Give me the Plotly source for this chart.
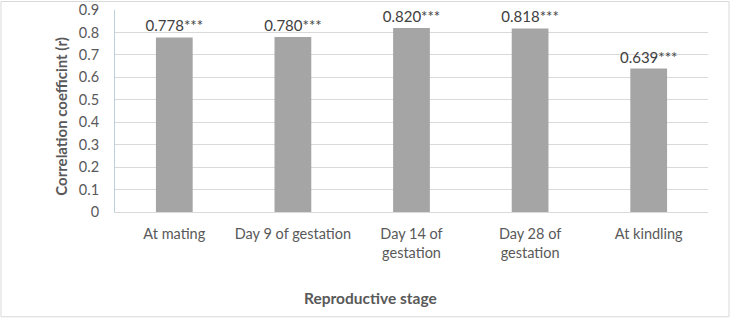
import plotly.graph_objects as go

categories = ["At mating", "Day 9 of gestation", "Day 14 of<br>gestation", "Day 28 of<br>gestation", "At kindling"]
values = [0.778, 0.780, 0.820, 0.818, 0.639]
labels = ["0.778***", "0.780***", "0.820***", "0.818***", "0.639***"]
y_ticks = [0, 0.1, 0.2, 0.3, 0.4, 0.5, 0.6, 0.7, 0.8, 0.9]
y_ticklabels = ["0", "0.1", "0.2", "0.3", "0.4", "0.5", "0.6", "0.7", "0.8", "0.9"]
x_title = "Reproductive stage"
y_title = "Correlation coefficint (r)"

FONT = "Lato, Carlito, Calibri, sans-serif"

fig = go.Figure(go.Bar(
    x=categories, y=values, text=labels, textposition="outside",
    constraintext="none",
    marker=dict(color="#a5a5a5", line=dict(width=0)),
    textfont=dict(family=FONT, size=15, color="#404040"),
    cliponaxis=False,
))

L, R, T, B = 115, 23, 9.5, 107
W, H = 731, 319
pw, ph = W - L - R, H - T - B

fig.update_layout(
    width=W, height=H,
    margin=dict(l=L, r=R, t=T, b=B, pad=0, autoexpand=False),
    paper_bgcolor="white", plot_bgcolor="white",
    bargap=0.69,
    showlegend=False,
    font=dict(family=FONT, size=14.5, color="#595959"),
    xaxis=dict(
        automargin=False,
        showgrid=False, showline=True, linecolor="#d9d9d9", linewidth=1,
        ticks="outside", ticklen=9, tickcolor="rgba(0,0,0,0)",
        tickfont=dict(family=FONT, size=14.5, color="#595959"),
    ),
    yaxis=dict(
        automargin=False,
        range=[0, 0.9], tickvals=y_ticks, ticktext=y_ticklabels,
        showgrid=True, gridcolor="#d9d9d9", gridwidth=1,
        showline=True, linecolor="#bcd0dc", linewidth=1,
        zeroline=False,
        ticks="outside", ticklen=12, tickcolor="rgba(0,0,0,0)",
        tickfont=dict(family=FONT, size=14.5, color="#595959"),
    ),
    annotations=[
        dict(text="<b>%s</b>" % x_title, xref="paper", yref="paper",
             x=(370 - L) / pw, y=(H - B - 298) / ph, xanchor="center", yanchor="middle",
             showarrow=False, font=dict(family=FONT, size=15.5, color="#595959")),
        dict(text="<b>%s</b>" % y_title, xref="paper", yref="paper",
             x=(61.5 - L) / pw, y=(H - B - 116) / ph, xanchor="center", yanchor="middle",
             textangle=-90, showarrow=False, font=dict(family=FONT, size=15, color="#595959")),
    ],
    shapes=[dict(
        type="rect", xref="paper", yref="paper",
        x0=(1 - L) / pw, x1=(729 - L) / pw,
        y0=(H - B - 317) / ph, y1=(H - B - 1) / ph,
        line=dict(color="#d9d9d9", width=1), fillcolor="rgba(0,0,0,0)", layer="below",
    )],
)

fig.write_html("out.html", config={"displayModeBar": False},
               post_script="document.body.style.margin='0';document.body.style.overflow='hidden';")
